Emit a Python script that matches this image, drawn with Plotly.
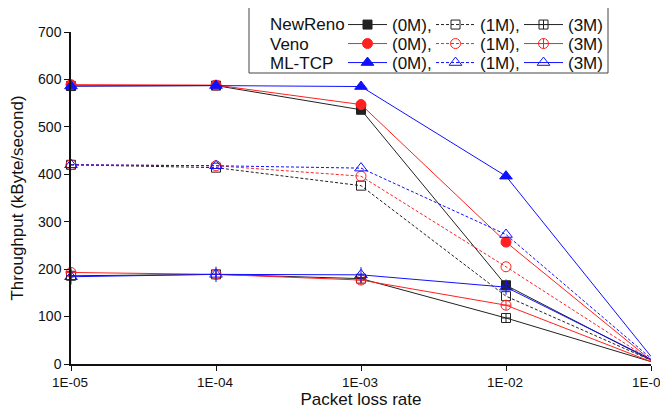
import plotly.graph_objects as go

loss_rate = [1e-5, 1e-4, 1e-3, 1e-2, 1e-1]
tick_text = ["1E-05", "1E-04", "1E-03", "1E-02", "1E-01"]
y_ticks = [0, 100, 200, 300, 400, 500, 600, 700]

newreno_0m = [586, 587, 536, 166, 8]
newreno_1m = [420, 414, 376, 143, 8]
newreno_3m = [186, 189, 180, 97, 5]
veno_0m = [589, 588, 547, 257, 8]
veno_1m = [420, 418, 396, 205, 8]
veno_3m = [193, 189, 177, 124, 5]
mltcp_0m = [586, 587, 585, 396, 16]
mltcp_1m = [420, 418, 413, 273, 12]
mltcp_3m = [184, 189, 188, 162, 10]

protocols = ["NewReno", "Veno", "ML-TCP"]
labels = ["(0M),", "(1M),", "(3M)"]

BLACK = "#222222"
RED = "#ff2020"
BLUE = "#1010ff"

series = [
    (newreno_0m, BLACK, "solid", "square", 9, "legend"),
    (newreno_1m, BLACK, "3px,2px", "square-open", 9, "legend"),
    (newreno_3m, BLACK, "solid", "square-cross-open", 9, "legend"),
    (veno_0m, RED, "solid", "circle", 10, "legend2"),
    (veno_1m, RED, "3px,2px", "circle-open", 10, "legend2"),
    (veno_3m, RED, "solid", "circle-cross-open", 10, "legend2"),
    (mltcp_0m, BLUE, "solid", "triangle-up", 11, "legend3"),
    (mltcp_1m, BLUE, "3px,2px", "triangle-up-open", 11, "legend3"),
    (mltcp_3m, BLUE, "solid", "triangle-up-open", 11, "legend3"),
]

fig = go.Figure()
for i, (vals, col, dash, sym, size, lg) in enumerate(series):
    fig.add_trace(go.Scatter(
        x=loss_rate, y=vals, mode="lines+markers",
        name=labels[i % 3], legend=lg,
        line=dict(color=col, width=1, dash=dash),
        marker=dict(symbol=sym, size=size, color=col, line=dict(color=col, width=1)),
        cliponaxis=False,
    ))
# vertical bar inside ML-TCP 3M triangles
fig.add_trace(go.Scatter(
    x=loss_rate, y=mltcp_3m, mode="markers", showlegend=False,
    marker=dict(symbol="line-ns-open", size=11, color=BLUE, line=dict(color=BLUE, width=1)),
    cliponaxis=False,
))

FONT = "Liberation Sans, Arial, sans-serif"

legend_common = dict(orientation="h", bgcolor="rgba(0,0,0,0)", borderwidth=0,
                     font=dict(family=FONT, size=17, color="#111111"),
                     xanchor="left", yanchor="middle", entrywidth=34,
                     entrywidthmode="pixels", itemwidth=39, tracegroupgap=0)
lx = (343 - 71) / 580
rows_px = [25, 44, 63]
def py(p):
    return (364 - p) / 332

# page has an 8px body margin: figure is sized/offset so the plot area lands
# at x 71..651, y 32..364 of the 668x410 window
fig.update_layout(
    width=660, height=402,
    margin=dict(l=63, r=17, t=24, b=46, autoexpand=False),
    paper_bgcolor="white", plot_bgcolor="white",
    font=dict(family=FONT, size=13.5, color="#111111"),
    legend=dict(legend_common, x=lx, y=py(rows_px[0])),
    legend2=dict(legend_common, x=lx, y=py(rows_px[1])),
    legend3=dict(legend_common, x=lx, y=py(rows_px[2])),
    xaxis=dict(type="log", range=[-5, -1], tickvals=loss_rate, ticktext=tick_text,
               showgrid=False, zeroline=False, showline=True, linecolor="#111111",
               linewidth=1.5, ticks="outside", ticklen=5, tickcolor="#111111",
               tickfont=dict(size=13.5), ticklabeloverflow="allow", automargin=False,
               ticklabelshift=-1,
               title=dict(text="Packet loss rate", font=dict(size=17), standoff=4)),
    yaxis=dict(range=[0, 700], tickvals=y_ticks, showgrid=False, zeroline=False,
               showline=True, linecolor="#111111", linewidth=1.5, ticks="outside",
               ticklen=5, tickcolor="#111111", tickfont=dict(size=14), automargin=False,
               title=dict(text="Throughput (kByte/second)", font=dict(size=17), standoff=10)),
    shapes=[dict(type="rect", xref="paper", yref="paper",
                 x0=(249 - 71) / 580, x1=(608 - 71) / 580, y0=py(73), y1=py(7),
                 line=dict(color="#444444", width=1), fillcolor="white", layer="below")],
)
for name, rp in zip(protocols, rows_px):
    fig.add_annotation(x=(268 - 71) / 580, y=py(rp), xref="paper", yref="paper",
                       text=name, showarrow=False, xanchor="left", yanchor="middle",
                       font=dict(family=FONT, size=17, color="#111111"))

fig.write_html("out.html")
